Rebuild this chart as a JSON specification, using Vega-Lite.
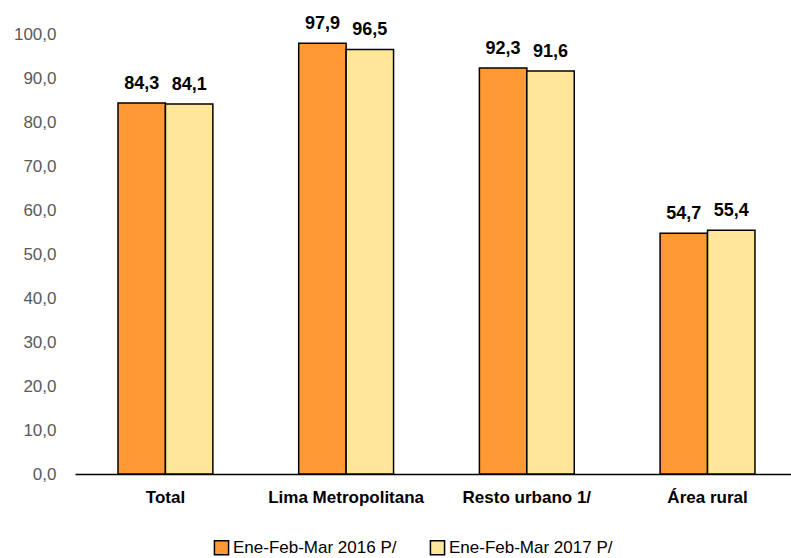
{
  "$schema": "https://vega.github.io/schema/vega-lite/v6.json",
  "width": 716,
  "height": 440,
  "autosize": {"type": "none"},
  "padding": {"left": 75, "top": 34, "right": 0, "bottom": 84},
  "background": "white",
  "config": {
    "view": {"stroke": null},
    "locale": {"number": {"decimal": ",", "thousands": ".", "grouping": [3], "currency": ["", ""]}},
    "font": "Liberation Sans, Arial, sans-serif"
  },
  "data": {
    "values": [
      {"cat": "Total", "periodo": "Ene-Feb-Mar 2016 P/", "valor": 84.3},
      {"cat": "Total", "periodo": "Ene-Feb-Mar 2017 P/", "valor": 84.1},
      {"cat": "Lima Metropolitana", "periodo": "Ene-Feb-Mar 2016 P/", "valor": 97.9},
      {"cat": "Lima Metropolitana", "periodo": "Ene-Feb-Mar 2017 P/", "valor": 96.5},
      {"cat": "Resto urbano 1/", "periodo": "Ene-Feb-Mar 2016 P/", "valor": 92.3},
      {"cat": "Resto urbano 1/", "periodo": "Ene-Feb-Mar 2017 P/", "valor": 91.6},
      {"cat": "Área rural", "periodo": "Ene-Feb-Mar 2016 P/", "valor": 54.7},
      {"cat": "Área rural", "periodo": "Ene-Feb-Mar 2017 P/", "valor": 55.4}
    ]
  },
  "encoding": {
    "x": {
      "field": "cat", "type": "nominal", "sort": null, "title": null,
      "scale": {"paddingInner": 0.475, "paddingOuter": 0.2187, "align": 0.544},
      "axis": {"labelAngle": 0, "domainColor": "black", "domainWidth": 1.5, "ticks": false,
               "labelFontSize": 17, "labelFontWeight": "bold", "labelColor": "black", "labelPadding": 15}
    },
    "xOffset": {"field": "periodo", "type": "nominal", "sort": null, "scale": {"paddingInner": 0, "paddingOuter": 0}},
    "y": {
      "field": "valor", "type": "quantitative", "title": null,
      "scale": {"domain": [0, 100], "nice": false},
      "axis": {"values": [0,10,20,30,40,50,60,70,80,90,100], "format": ".1f", "grid": false, "domain": false, "ticks": false,
               "labelFontSize": 17, "labelColor": "#595959", "labelPadding": 19}
    }
  },
  "layer": [
    {
      "mark": {"type": "bar", "stroke": "black", "strokeWidth": 1.5},
      "encoding": {
        "color": {
          "field": "periodo", "type": "nominal", "sort": null,
          "scale": {"range": ["#FF9933", "#FFE699"]},
          "legend": {"title": null, "orient": "none", "direction": "horizontal", "legendX": 138, "legendY": 505,
                     "symbolType": "square", "symbolSize": 200, "symbolStrokeColor": "black", "symbolStrokeWidth": 1.5,
                     "labelFontSize": 17, "labelColor": "black", "columnPadding": 30, "labelOffset": 3, "labelLimit": 400}
        }
      }
    },
    {
      "mark": {"type": "text", "baseline": "bottom", "dy": -10, "fontSize": 18, "fontWeight": "bold", "color": "black"},
      "encoding": {"text": {"field": "valor", "type": "quantitative", "format": ".1f"}}
    }
  ]
}
